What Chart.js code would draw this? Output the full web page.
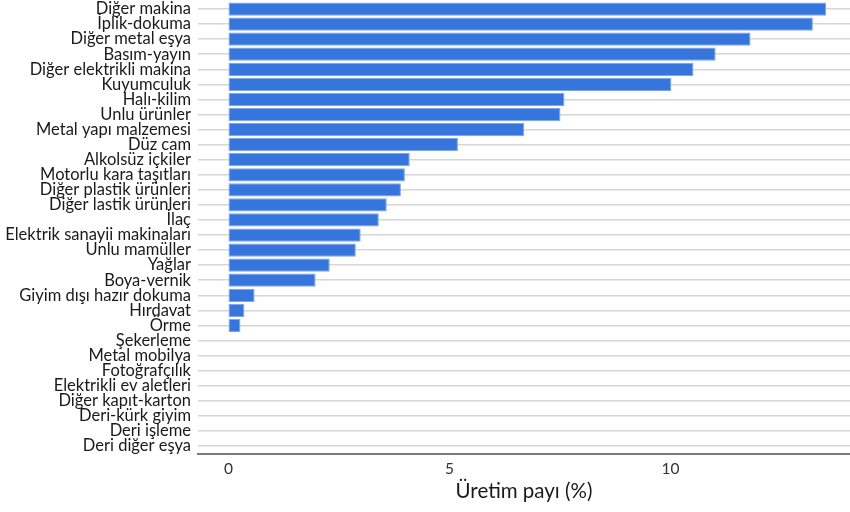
<!DOCTYPE html>
<html>
<head>
<meta charset="utf-8">
<script src="https://cdn.jsdelivr.net/npm/chart.js@4.4.1/dist/chart.umd.min.js"></script>
<style>
  html, body { margin: 0; padding: 0; background: #ffffff; }
  #wrap { width: 850px; height: 512px; position: relative; }
</style>
</head>
<body>
<div id="wrap"><canvas id="c" width="850" height="512"></canvas></div>
<script>
const categories = [
  "Diğer makina", "İplik-dokuma", "Diğer metal eşya", "Basım-yayın",
  "Diğer elektrikli makina", "Kuyumculuk", "Halı-kilim", "Unlu ürünler",
  "Metal yapı malzemesi", "Düz cam", "Alkolsüz içkiler", "Motorlu kara taşıtları",
  "Diğer plastik ürünleri", "Diğer lastik ürünleri", "İlaç",
  "Elektrik sanayii makinaları", "Unlu mamüller", "Yağlar", "Boya-vernik",
  "Giyim dışı hazır dokuma", "Hırdavat", "Örme", "Şekerleme", "Metal mobilya",
  "Fotoğrafçılık", "Elektrikli ev aletleri", "Diğer kapıt-karton",
  "Deri-kürk giyim", "Deri işleme", "Deri diğer eşya"
];
const shareValues = [
  13.52, 13.22, 11.81, 11.02, 10.52, 10.02, 7.60, 7.51, 6.69, 5.19,
  4.10, 3.99, 3.90, 3.58, 3.40, 2.99, 2.88, 2.29, 1.97, 0.59,
  0.36, 0.27, 0, 0, 0, 0, 0, 0, 0, 0
];
const xTickValues = [0, 5, 10];
const xAxisTitle = "Üretim payı (%)";

const FONT = "Lato, 'Noto Sans', sans-serif";

new Chart(document.getElementById('c'), {
  type: 'bar',
  data: {
    labels: categories,
    datasets: [{
      data: shareValues,
      backgroundColor: '#3575dc',
      borderColor: '#7ca5ea',
      borderWidth: 1,
      borderSkipped: false,
      categoryPercentage: 1.0,
      barPercentage: 0.88
    }]
  },
  options: {
    indexAxis: 'y',
    responsive: false,
    animation: false,
    devicePixelRatio: 1,
    layout: { padding: { top: 1.5, right: 0, bottom: 8.5, left: 0 } },
    plugins: { legend: { display: false }, tooltip: { enabled: false } },
    scales: {
      y: {
        offset: true,
        grid: { display: true, offset: false, color: '#d6d6d6', lineWidth: 1.5, drawTicks: false },
        border: { display: false },
        ticks: {
          color: '#1a1a1a',
          padding: 7,
          autoSkip: false,
          font: { family: FONT, size: 16.5 }
        },
        afterFit: (s) => { s.width = 198; s.paddingTop = 0; s.paddingBottom = 0; }
      },
      x: {
        min: -0.69,
        max: 14.06,
        grid: { display: false, drawTicks: false },
        border: { display: true, color: '#7a7a7a', width: 2 },
        afterBuildTicks: (s) => { s.ticks = xTickValues.map(v => ({ value: v })); },
        ticks: {
          color: '#333333',
          padding: 6,
          font: { family: FONT, size: 15.5 }
        },
        title: {
          display: true,
          text: xAxisTitle,
          color: '#1a1a1a',
          padding: { top: 4, bottom: 0 },
          font: { family: FONT, size: 20.5 }
        },
        afterFit: (s) => { s.height = 50; s.paddingLeft = 0; s.paddingRight = 0; }
      }
    }
  }
});
</script>
</body>
</html>
